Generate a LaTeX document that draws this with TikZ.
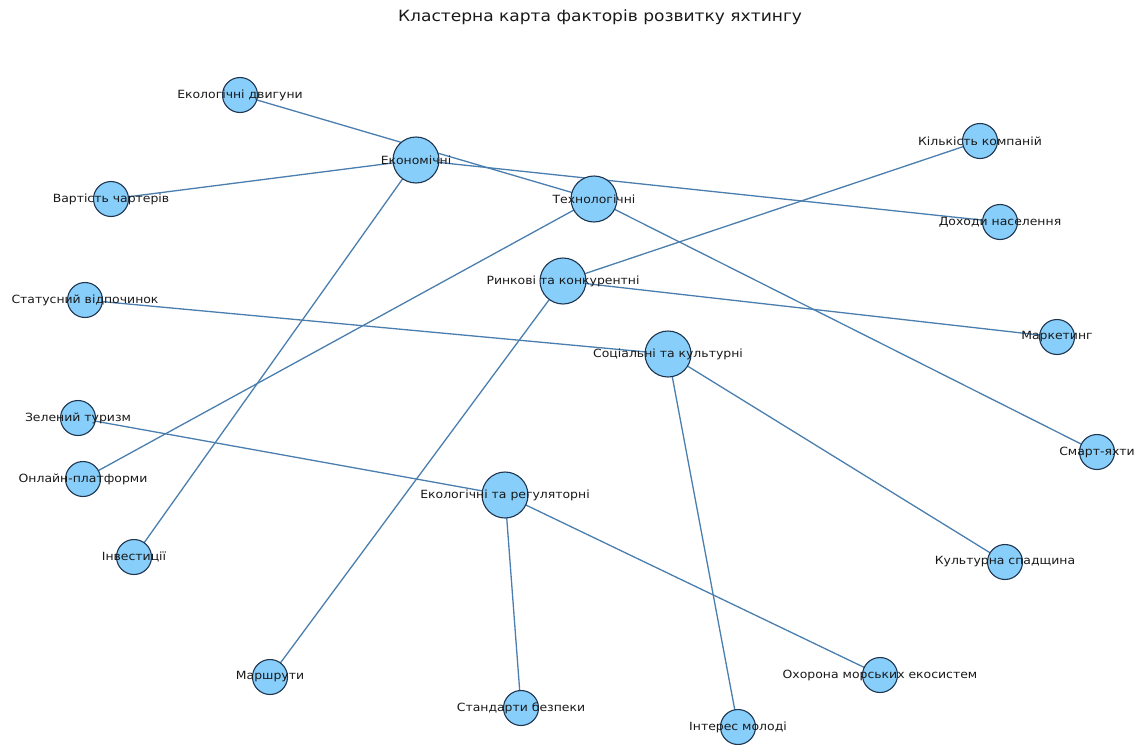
\documentclass[tikz,border=0pt]{standalone}
\usepackage{fontspec}
\setmainfont{DejaVu Sans}
\newfontfamily\lblfont[FakeStretch=1.1]{DejaVu Sans}
\begin{document}
\begin{tikzpicture}[x=1pt,y=-1pt,
  big/.style={circle,draw=nodeborder,fill=nodefill,line width=1.1pt,minimum size=46pt,inner sep=0pt},
  small/.style={circle,draw=nodeborder,fill=nodefill,line width=1.1pt,minimum size=35pt,inner sep=0pt},
  lbl/.style={font=\lblfont\fontsize{11.3}{13}\selectfont,text=black!90,inner sep=0pt},
  edge/.style={draw=edgecol,line width=1.3pt}]
\definecolor{nodefill}{HTML}{87CEFA}
\definecolor{nodeborder}{HTML}{1F3550}
\definecolor{edgecol}{HTML}{4A7EAE}
\useasboundingbox (0,0) rectangle (1140,744);
\node[font=\lblfont\fontsize{15.5}{18}\selectfont,text=black!90] (title) at (600,17) {Кластерна карта факторів розвитку яхтингу};
% coordinates
\coordinate (ec) at (416,160);
\coordinate (te) at (594,199);
\coordinate (ri) at (563,281);
\coordinate (so) at (668,354);
\coordinate (er) at (505,495);
\coordinate (ed) at (240,95);
\coordinate (vc) at (111,199);
\coordinate (kk) at (980,141);
\coordinate (dn) at (1000,222);
\coordinate (sv) at (85,300);
\coordinate (ma) at (1057,337);
\coordinate (zt) at (78,418);
\coordinate (op) at (83,479);
\coordinate (sy) at (1097,452);
\coordinate (in) at (134,557);
\coordinate (ks) at (1005,562);
\coordinate (mr) at (270,677);
\coordinate (om) at (880,675);
\coordinate (sb) at (521,708);
\coordinate (im) at (738,727);
% edges
\draw[edge] (te) -- (ed);
\draw[edge] (ec) -- (vc);
\draw[edge] (ec) -- (dn);
\draw[edge] (ec) -- (in);
\draw[edge] (te) -- (op);
\draw[edge] (te) -- (sy);
\draw[edge] (ri) -- (kk);
\draw[edge] (ri) -- (ma);
\draw[edge] (ri) -- (mr);
\draw[edge] (so) -- (sv);
\draw[edge] (so) -- (ks);
\draw[edge] (so) -- (im);
\draw[edge] (er) -- (zt);
\draw[edge] (er) -- (sb);
\draw[edge] (er) -- (om);
% nodes
\foreach \c in {ec,te,ri,so,er} \node[big] (n\c) at (\c) {};
\foreach \c in {ed,vc,kk,dn,sv,ma,zt,op,sy,in,ks,mr,om,sb,im} \node[small] (n\c) at (\c) {};
% labels
\node[lbl] (lec) at (ec) {Економічні};
\node[lbl] (lte) at (te) {Технологічні};
\node[lbl] (lri) at (ri) {Ринкові та конкурентні};
\node[lbl] (lso) at (so) {Соціальні та культурні};
\node[lbl] (ler) at (er) {Екологічні та регуляторні};
\node[lbl] (led) at (ed) {Екологічні двигуни};
\node[lbl] (lvc) at (vc) {Вартість чартерів};
\node[lbl] (lkk) at (kk) {Кількість компаній};
\node[lbl] (ldn) at (dn) {Доходи населення};
\node[lbl] (lsv) at (sv) {Статусний відпочинок};
\node[lbl] (lma) at (ma) {Маркетинг};
\node[lbl] (lzt) at (zt) {Зелений туризм};
\node[lbl] (lop) at (op) {Онлайн-платформи};
\node[lbl] (lsy) at (sy) {Смарт-яхти};
\node[lbl] (lin) at (in) {Інвестиції};
\node[lbl] (lks) at (ks) {Культурна спадщина};
\node[lbl] (lmr) at (mr) {Маршрути};
\node[lbl] (lom) at (om) {Охорона морських екосистем};
\node[lbl] (lsb) at (sb) {Стандарти безпеки};
\node[lbl] (lim) at (im) {Інтерес молоді};
\end{tikzpicture}
\end{document}
